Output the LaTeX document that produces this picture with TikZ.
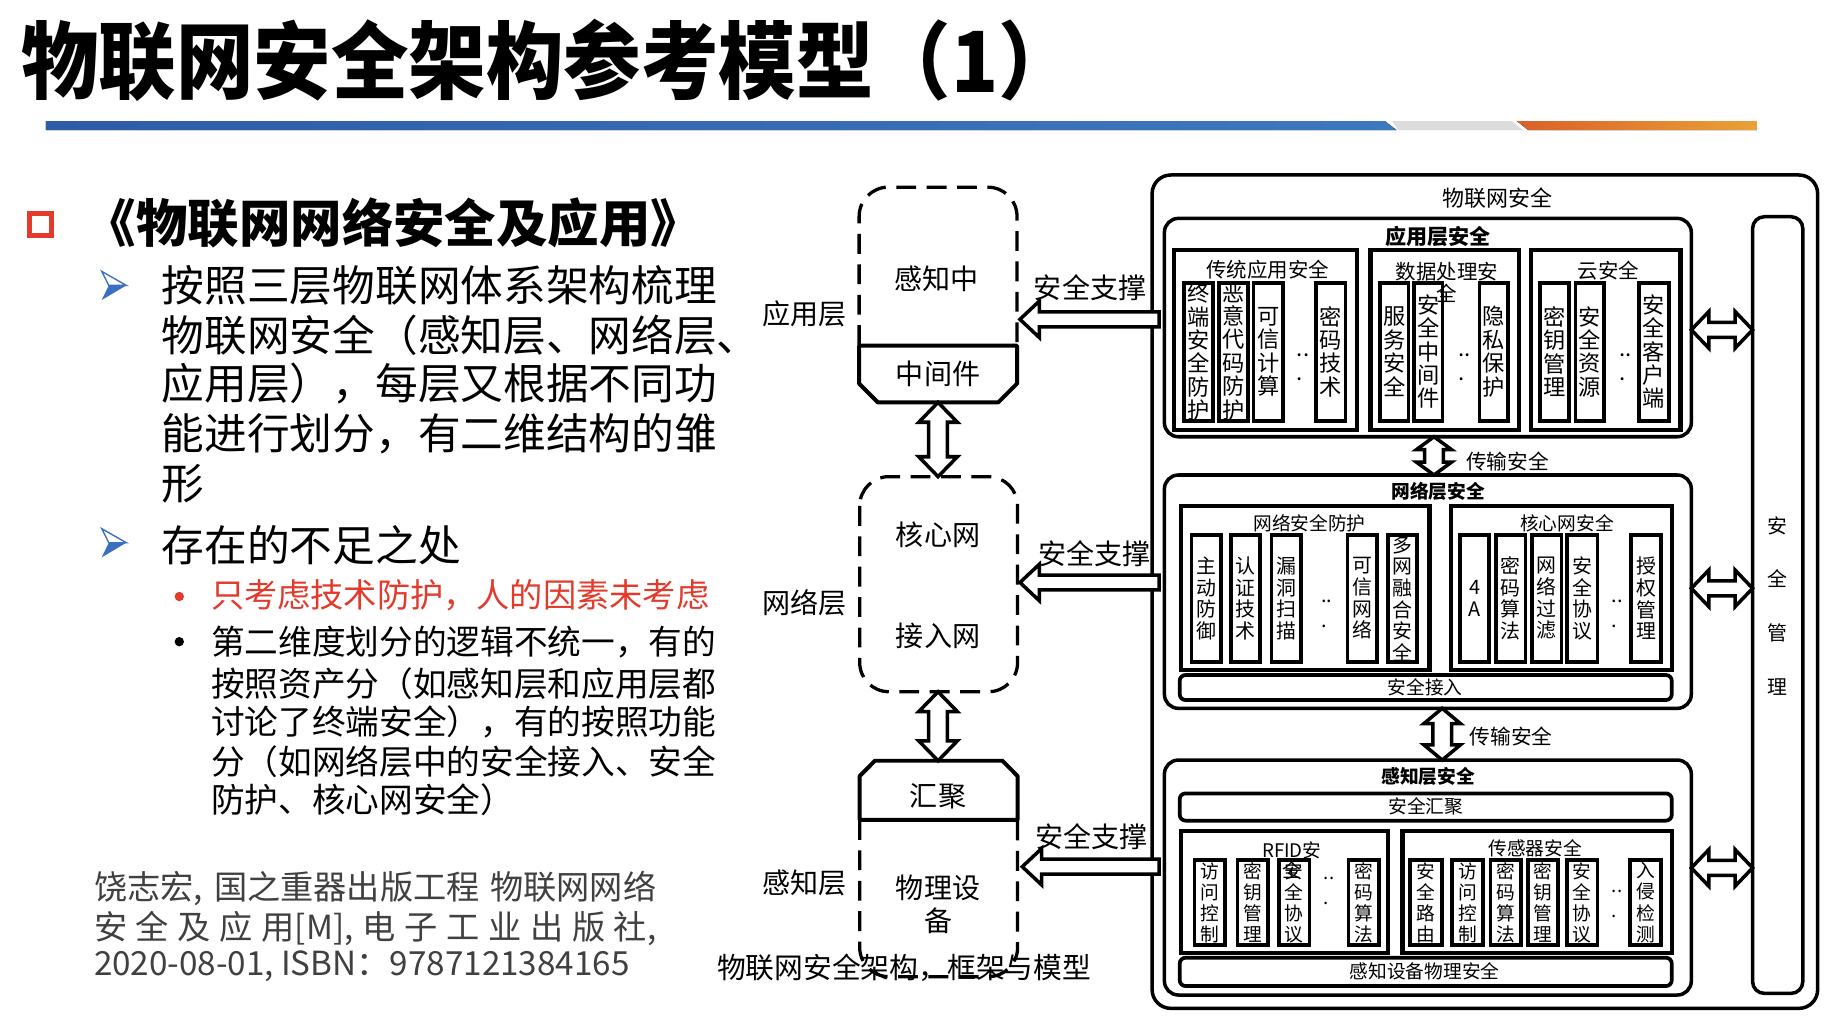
\documentclass[tikz,border=0pt]{standalone}
\usepackage{graphicx}
\usepackage{fontspec}
\setmainfont{Noto Sans CJK SC}
\usetikzlibrary{calc}

\definecolor{barblueL}{HTML}{2E5CA8}
\definecolor{barblueR}{HTML}{3E78BE}
\definecolor{barorgL}{HTML}{D9602A}
\definecolor{barorgR}{HTML}{E8A238}
\definecolor{bargray}{HTML}{DCDCDC}
\definecolor{hired}{HTML}{E23A2B}
\definecolor{bulblue}{HTML}{3A70C0}
\definecolor{citegray}{HTML}{404040}

\newcommand\fsz[2]{\fontsize{#1pt}{#2pt}\selectfont}

% vertical double block arrow: top point, bottom point, shaft half width, head half width, head length
\newcommand\vdarr[5]{%
  \draw[blk] let \p1=(#1), \p2=(#2) in
    (\x1,\y1) -- (\x1+#4,\y1-#5) -- (\x1+#3,\y1-#5) -- (\x1+#3,\y2+#5) -- (\x1+#4,\y2+#5)
    -- (\x1,\y2) -- (\x1-#4,\y2+#5) -- (\x1-#3,\y2+#5) -- (\x1-#3,\y1-#5) -- (\x1-#4,\y1-#5) -- cycle;}
% horizontal double block arrow: left point, right point, ...
\newcommand\hdarr[5]{%
  \draw[blk] let \p1=(#1), \p2=(#2) in
    (\x1,\y1) -- (\x1+#5,\y1+#4) -- (\x1+#5,\y1+#3) -- (\x2-#5,\y1+#3) -- (\x2-#5,\y1+#4)
    -- (\x2,\y1) -- (\x2-#5,\y1-#4) -- (\x2-#5,\y1-#3) -- (\x1+#5,\y1-#3) -- (\x1+#5,\y1-#4) -- cycle;}
% left-pointing block arrow: tip, tail, ...
\newcommand\larr[5]{%
  \draw[blk] let \p1=(#1), \p2=(#2) in
    (\x1,\y1) -- (\x1+#5,\y1+#4) -- (\x1+#5,\y1+#3) -- (\x2,\y1+#3) -- (\x2,\y1-#3)
    -- (\x1+#5,\y1-#3) -- (\x1+#5,\y1-#4) -- cycle;}
% one item column with vertical text
\newcommand\colb[4]{%
  \draw[colline] (#2,\ct) rectangle (#3,\cb);
  \node[coltxt] (#1) at ({(#2+#3)/2},{(\ct+\cb)/2}) {#4};}

\begin{document}
\begin{tikzpicture}[x=0.5pt,y=-0.5pt,
  txt/.style={inner sep=0pt, anchor=west},
  lbl/.style={inner sep=0pt, font=\fsz{12}{14}, align=center},
  dashbox/.style={line width=1.4pt, dash pattern=on 8.5pt off 4.5pt, rounded corners=12.5pt},
  solidbox/.style={line width=1.7pt, line join=round},
  blk/.style={draw, fill=white, line width=1.5pt, line join=miter},
  layer/.style={line width=1.5pt, rounded corners=6pt},
  subbox/.style={line width=1.8pt},
  colline/.style={line width=1.6pt},
  barbox/.style={line width=1.6pt, rounded corners=2.5pt},
  rt/.style={inner sep=0pt, align=center},
]
\fill[white] (0,0) rectangle (1568,873);
\useasboundingbox (0,0) rectangle (1568,873);

% ---------- heading ----------
\node[txt, font=\bfseries\fsz{36}{36}] (title) at (18,52) {\scalebox{0.92}[1]{物联网安全架构参考模型（1）}};
\fill[left color=barblueL, right color=barblueR] (39.3,103.5) -- (1184,103.5) -- (1194,111.2) -- (39.3,111.2) -- cycle;
\fill[bargray] (1190,103.5) -- (1292.5,103.5) -- (1302,111.2) -- (1195.5,111.2) -- cycle;
\fill[left color=barorgL, right color=barorgR] (1296.8,103.5) -- (1502,103.5) -- (1502,111.2) -- (1306.6,111.2) -- cycle;

% ---------- left column ----------
\draw[hired, line width=2.15pt] (25,182.2) rectangle (44,201.6);
\node[txt, font=\bfseries\fsz{22}{22}] (book) at (72,191) {《物联网网络安全及应用》};

\begin{scope}[shift={(87,232)}]
  \draw[bulblue, line width=0.6pt, line join=miter] (0,0) -- (21,12) -- (6,12) -- cycle;
  \fill[bulblue] (6,12) -- (21,12) -- (0,24.5) -- cycle;
\end{scope}
\begin{scope}[shift={(87,452)}]
  \draw[bulblue, line width=0.6pt, line join=miter] (0,0) -- (21,12) -- (6,12) -- cycle;
  \fill[bulblue] (6,12) -- (21,12) -- (0,24.5) -- cycle;
\end{scope}

\node[txt, font=\fsz{18.25}{18.25}] (p1) at (138,243.7) {按照三层物联网体系架构梳理};
\node[txt, font=\fsz{18.25}{18.25}] (p2) at (138,286.4) {物联网安全（感知层、网络层、};
\node[txt, font=\fsz{18.25}{18.25}] (p3) at (138,327.8) {应用层），每层又根据不同功};
\node[txt, font=\fsz{18.25}{18.25}] (p4) at (138,370.5) {能进行划分，有二维结构的雏};
\node[txt, font=\fsz{18.25}{18.25}] (p5) at (138,413.3) {形};
\node[txt, font=\fsz{18.25}{18.25}] (q0) at (138,466) {存在的不足之处};

\fill[hired] (153.3,510) circle (2pt);
\node[txt, font=\fsz{14.2}{14.2}, text=hired] (r1) at (180,509) {只考虑技术防护，人的因素未考虑};
\fill[black] (153.3,548.6) circle (2pt);
\node[txt, font=\fsz{14.4}{14.4}] (b1) at (180,548.6) {第二维度划分的逻辑不统一，有的};
\node[txt, font=\fsz{14.4}{14.4}] (b2) at (180,584.3) {按照资产分（如感知层和应用层都};
\node[txt, font=\fsz{14.4}{14.4}] (b3) at (180,617) {讨论了终端安全），有的按照功能};
\node[txt, font=\fsz{14.4}{14.4}] (b4) at (180,651.2) {分（如网络层中的安全接入、安全};
\node[txt, font=\fsz{14.4}{14.4}] (b5) at (180,684) {防护、核心网安全）};

\node[txt, font=\fsz{14.2}{14.2}, text=citegray] (c1) at (80,759.5) {\makebox[240.4pt][s]{饶志宏, 国之重器出版工程 物联网网络}};
\node[txt, font=\fsz{14.2}{14.2}, text=citegray] (c2) at (80,793.7) {\makebox[240.4pt][s]{安 全 及 应 用[M], 电 子 工 业 出 版 社,}};
\node[txt, font=\fsz{14.2}{14.2}, text=citegray] (c3) at (80,826.5) {2020-08-01, ISBN：9787121384165};

% ---------- middle: layered structure ----------
\draw[dashbox] (734.5,295) -- (734.5,160) -- (869.5,160) -- (869.5,295);
\draw[solidbox] (734.5,295.5) -- (869.5,295.5) -- (869.5,328) -- (853.5,344) -- (750.5,344) -- (734.5,328) -- cycle;
\node[lbl] (perc) at (801,238) {感知中};
\node[lbl] (mw) at (802,320) {中间件};
\node[lbl] (lapp) at (688,268) {应用层};
\coordinate (mwB) at (802,344);

\draw[dashbox] (735,407.5) rectangle (870,591.4);
\coordinate (netT) at (802,407.5);
\coordinate (netB) at (802,591.4);
\node[lbl] (core) at (802,457) {核心网};
\node[lbl] (acc) at (802,544) {接入网};
\node[lbl] (lnet) at (688,515.6) {网络层};

\draw[solidbox] (735,701) -- (735,663.5) -- (748,650.4) -- (857,650.4) -- (870,663.5) -- (870,701) -- cycle;
\coordinate (aggT) at (802,650.4);
\node[lbl] (agg) at (802,680.6) {汇聚};
\draw[dashbox] (735,701) -- (735,835) -- (870,835) -- (870,701);
\node[lbl] (dev) at (802,773) {物理设\\备};
\node[lbl] (lsen) at (688,755) {感知层};

\vdarr{mwB}{netT}{4pt}{8.25pt}{8.5pt}
\vdarr{netB}{aggT}{4pt}{8.25pt}{8.5pt}

\node[lbl, font=\fsz{12.3}{14}] (cap) at (773,827.7) {物联网安全架构，框架与模型};

% ---------- right: security architecture ----------
\draw[line width=1.5pt, rounded corners=8pt] (985,149.6) rectangle (1554,862.1);
\node[rt, font=\fsz{9.4}{10}] (iot) at (1280,169.6) {物联网安全};

% support arrows towards the layers
\node[lbl] (sup1) at (932,246) {安全支撑};
\node[lbl] (sup2) at (936,473) {安全支撑};
\node[lbl] (sup3) at (933,715) {安全支撑};
\coordinate (s1a) at (872,273);  \coordinate (s1b) at (991,273);
\coordinate (s2a) at (872,498);  \coordinate (s2b) at (991,498);
\coordinate (s3a) at (874,741);  \coordinate (s3b) at (991,741);
\larr{s1a}{s1b}{3.2pt}{7.8pt}{8.3pt}
\larr{s2a}{s2b}{3.2pt}{7.8pt}{8.3pt}
\larr{s3a}{s3b}{3.2pt}{7.8pt}{8.3pt}

% security management bar
\draw[line width=1.5pt, rounded corners=5pt] (1498.4,185.3) rectangle (1541.3,849.3);
\node[rt, font=\fsz{8.5}{23}] (mgmt) at (1519.6,518) {安\\全\\管\\理};

% application layer
\draw[layer] (995.5,186.7) rectangle (1446,373.4);
\node[rt, font=\bfseries\fsz{9}{10}] (appT) at (1229.6,202.3) {应用层安全};
\draw[subbox] (1003.7,213.8) rectangle (1160.5,367.7);
\draw[subbox] (1171.7,213.8) rectangle (1298.6,367.7);
\draw[subbox] (1308.7,213.8) rectangle (1436.8,367.7);
\def\ct{241.7}\def\cb{359.7}
\tikzset{coltxt/.style={rt, font=\fsz{9.5}{10}}}
\colb{a1}{1012.3}{1037.3}{终\\端\\安\\全\\防\\护}
\colb{a2}{1042}{1067}{恶\\意\\代\\码\\防\\护}
\colb{a3}{1071.7}{1097}{可\\信\\计\\算}
\colb{a4}{1125}{1150.4}{密\\码\\技\\术}
\colb{a5}{1180}{1204.2}{服\\务\\安\\全}
\colb{a6}{1209}{1233.3}{安\\全\\中\\间\\件}
\colb{a7}{1265}{1289.3}{隐\\私\\保\\护}
\colb{a8}{1316.6}{1341.6}{密\\钥\\管\\理}
\colb{a9}{1347}{1371.5}{安\\全\\资\\源}
\colb{a10}{1401}{1427}{安\\全\\客\\户\\端}
\node[rt, align=left, font=\fsz{9.5}{10.5}] (ad1) at (1114,314) {..\\.};
\node[rt, align=left, font=\fsz{9.5}{10.5}] (ad2) at (1252,314) {..\\.};
\node[rt, align=left, font=\fsz{9.5}{10.5}] (ad3) at (1390,314) {..\\.};
\node[rt, font=\fsz{8.75}{9.25}] (tA) at (1084,230.9) {传统应用安全};
\node[rt, font=\fsz{8.75}{9.25}] (tB) at (1237,241.5) {数据处理安\\全};
\node[rt, font=\fsz{8.75}{9.25}] (tC) at (1375,231) {云安全};

% network layer
\draw[layer] (995.5,406.1) rectangle (1446,605.6);
\node[rt, font=\bfseries\fsz{8}{9}] (netL) at (1229.6,420.4) {网络层安全};
\draw[subbox] (1010,432.6) rectangle (1222.1,572.9);
\draw[subbox] (1240.8,432.6) rectangle (1429.3,572.9);
\def\ct{457.4}\def\cb{565.7}
\tikzset{coltxt/.style={rt, font=\fsz{8.5}{9.25}}}
\colb{n1}{1018.7}{1043.7}{主\\动\\防\\御}
\colb{n2}{1052.3}{1077.3}{认\\证\\技\\术}
\colb{n3}{1087}{1112}{漏\\洞\\扫\\描}
\colb{n4}{1152}{1177.3}{可\\信\\网\\络}
\colb{n5}{1186.6}{1211.7}{多\\网\\融\\合\\安\\全}
\colb{n6}{1248.3}{1273.3}{4\\A}
\colb{n7}{1278.9}{1304.2}{密\\码\\算\\法}
\colb{n8}{1309.8}{1334.9}{网\\络\\过\\滤}
\colb{n9}{1339.7}{1365.8}{安\\全\\协\\议}
\colb{n10}{1394.6}{1420}{授\\权\\管\\理}
\node[rt, align=left, font=\fsz{8.5}{10.5}] (nd1) at (1134.4,525) {..\\.};
\node[rt, align=left, font=\fsz{8.5}{10.5}] (nd2) at (1382.6,525) {..\\.};
\node[rt, font=\fsz{8}{9}] (tD) at (1119.5,447.4) {网络安全防护};
\node[rt, font=\fsz{8}{9}] (tE) at (1339.7,447.4) {核心网安全};
\draw[barbox] (1008.6,577.1) rectangle (1429.3,598.5);
\node[rt, font=\fsz{8}{9}] (secacc) at (1218.4,587.7) {安全接入};

% sensing layer
\draw[layer] (995.5,649.8) rectangle (1446,850.7);
\node[rt, font=\bfseries\fsz{8}{9}] (senL) at (1221,664) {感知层安全};
\draw[barbox] (1008.6,678.3) rectangle (1429.3,701.6);
\node[rt, font=\fsz{8}{9}] (secagg) at (1219,689.6) {安全汇聚};
\draw[subbox] (1010,710.5) rectangle (1186.7,814.5);
\draw[subbox] (1199,710.5) rectangle (1429.3,814.5);
\def\ct{735.3}\def\cb{808}
\tikzset{coltxt/.style={rt, font=\fsz{8}{9}}}
\colb{s1}{1021.3}{1047.4}{访\\问\\控\\制}
\colb{s2}{1057.9}{1084}{密\\钥\\管\\理}
\colb{s3}{1093.3}{1119.5}{安\\全\\协\\议}
\colb{s4}{1153}{1179.2}{密\\码\\算\\法}
\colb{s5}{1205.3}{1232.6}{安\\全\\路\\由}
\colb{s6}{1241.5}{1267.6}{访\\问\\控\\制}
\colb{s7}{1274.4}{1300.5}{密\\码\\算\\法}
\colb{s8}{1306.5}{1332.2}{密\\钥\\管\\理}
\colb{s9}{1339.7}{1365.8}{安\\全\\协\\议}
\colb{s10}{1393.8}{1420}{入\\侵\\检\\测}
\node[rt, align=left, font=\fsz{8}{10.5}] (sd1) at (1136.3,761.6) {..\\.};
\node[rt, align=left, font=\fsz{8}{10.5}] (sd2) at (1382.6,773) {..\\.};
\node[rt, font=\fsz{8}{8.75}] (tF) at (1104.5,735.5) {RFID安\\全};
\node[rt, font=\fsz{8}{9}] (tG) at (1312.5,725.3) {传感器安全};
\draw[barbox] (1008.6,818.8) rectangle (1429.3,843);
\node[rt, font=\fsz{8}{9}] (phys) at (1218,830) {感知设备物理安全};

% transport between layers
\coordinate (t1a) at (1226,373.4);  \coordinate (t1b) at (1226,406.1);
\coordinate (t2a) at (1233,605.6);  \coordinate (t2b) at (1233,649.8);
\vdarr{t1a}{t1b}{4pt}{7.5pt}{5.5pt}
\vdarr{t2a}{t2b}{4pt}{7.8pt}{6.5pt}
\node[rt, font=\fsz{8.85}{9.5}] (tr1) at (1289,394.7) {传输安全};
\node[rt, font=\fsz{8.85}{9.5}] (tr2) at (1292,629.8) {传输安全};

% links to security management
\coordinate (h1a) at (1446,282);   \coordinate (h1b) at (1498.4,282);
\coordinate (h2a) at (1446,503);   \coordinate (h2b) at (1498.4,503);
\coordinate (h3a) at (1446,742);   \coordinate (h3b) at (1498.4,742);
\hdarr{h1a}{h1b}{3.2pt}{7.85pt}{7.5pt}
\hdarr{h2a}{h2b}{3.2pt}{7.85pt}{7.5pt}
\hdarr{h3a}{h3b}{3.2pt}{7.85pt}{7.5pt}
\end{tikzpicture}
\end{document}
